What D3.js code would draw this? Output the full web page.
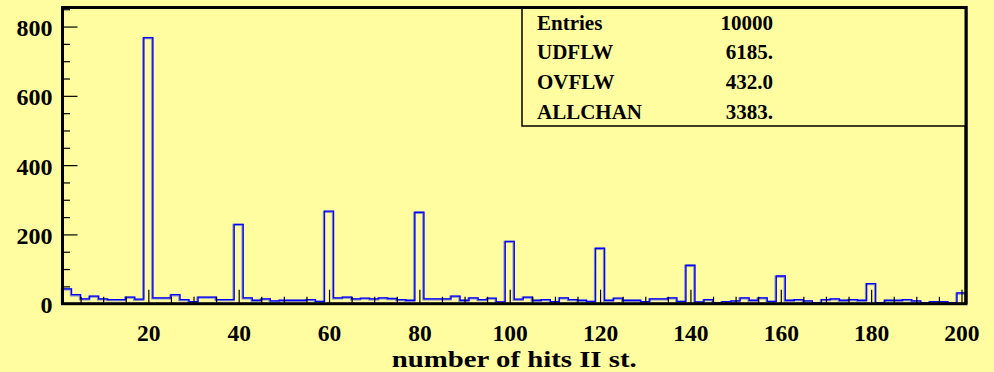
<!DOCTYPE html>
<html>
<head>
<meta charset="utf-8">
<script src="https://cdn.jsdelivr.net/npm/d3@7"></script>
<style>
  html, body { margin: 0; padding: 0; background: #fffd9f; }
  svg { display: block; font-family: "Liberation Serif", "Times New Roman", serif; font-weight: bold; }
</style>
</head>
<body>
<svg id="chart" width="994" height="372"></svg>
<script>
// histogram: 100 bins of width 2, from 1 to 201
const binLow = 1;
const binWidth = 2;
const counts = [
  43, 26, 14, 22, 14, 12, 12, 19, 13, 768,
  17, 17, 26, 12, 6, 19, 19, 12, 12, 229,
  17, 10, 14, 8, 10, 10, 10, 12, 7, 267,
  17, 19, 14, 16, 14, 17, 15, 12, 10, 264,
  14, 14, 14, 22, 10, 17, 12, 16, 5, 180,
  13, 19, 10, 12, 6, 17, 12, 10, 7, 160,
  10, 16, 10, 10, 6, 14, 14, 17, 7, 111,
  5, 12, 2, 6, 8, 17, 10, 17, 7, 80,
  10, 12, 8, 3, 12, 14, 10, 12, 10, 58,
  3, 10, 10, 12, 8, 3, 6, 6, 3, 31
];

const xMajor = [20, 40, 60, 80, 100, 120, 140, 160, 180, 200];
const xMinor = d3.range(5, 201, 5).filter(v => v % 20 !== 0);
const yMajor = [0, 200, 400, 600, 800];
const yMinor = d3.range(50, 851, 50).filter(v => v % 200 !== 0);

const statNames = ["Entries", "UDFLW", "OVFLW", "ALLCHAN"];
const statValues = ["10000", "6185.", "432.0", "3383."];

const xTitle = "number of hits II st.";

var svg = d3.select("#chart");
var pLeft = 62.5, pRight = 966, pTop = 7.5, pBottom = 303.7;

var x = d3.scaleLinear().domain([1, 201]).range([pLeft, pRight]);
var y = d3.scaleLinear().domain([0, 855]).range([pBottom, pTop]);

// background
svg.append("rect")
  .attr("width", 994).attr("height", 372)
  .attr("fill", "#fffd9f");

// histogram outline as a step path
const bins = counts.map((c, i) => ({ x0: binLow + i * binWidth, x1: binLow + (i + 1) * binWidth, c }));
const pts = [[bins[0].x0, 0]];
bins.forEach(b => { pts.push([b.x0, b.c]); pts.push([b.x1, b.c]); });
pts.push([bins[bins.length - 1].x1, 0]);

const stepLine = d3.line().x(d => x(d[0])).y(d => y(d[1]));

svg.append("path")
  .attr("d", stepLine(pts))
  .attr("fill", "none")
  .attr("stroke", "#8a8ac0")
  .attr("stroke-width", 2.2)
  .attr("transform", "translate(-0.6,0.6)");

svg.append("path")
  .attr("d", stepLine(pts))
  .attr("fill", "none")
  .attr("stroke", "#0000ff")
  .attr("stroke-width", 1.3);

// x axis, ticks pointing inward
var gx = svg.append("g").attr("transform", `translate(0,${pBottom})`);
gx.append("g")
  .call(d3.axisBottom(x).tickValues(xMinor).tickSize(-7).tickFormat(""))
  .call(g => g.select(".domain").remove());
gx.append("g")
  .call(d3.axisBottom(x).tickValues(xMajor).tickSize(-14).tickFormat(d3.format("d")))
  .call(g => g.select(".domain").remove())
  .call(g => g.selectAll("text")
    .attr("y", 37).attr("dy", 0)
    .attr("fill", "#000")
    .style("font-size", "23.5px"));

// y axis
var gy = svg.append("g").attr("transform", `translate(${pLeft},0)`);
gy.append("g")
  .call(d3.axisLeft(y).tickValues(yMinor).tickSize(-7.5).tickFormat(""))
  .call(g => g.select(".domain").remove());
gy.append("g")
  .call(d3.axisLeft(y).tickValues(yMajor).tickSize(-15).tickPadding(10).tickFormat(d3.format("d")))
  .call(g => g.select(".domain").remove())
  .call(g => g.selectAll("text")
    .attr("dy", "0.38em")
    .attr("fill", "#000")
    .style("font-size", "24px"));

svg.selectAll(".tick line").attr("stroke", "#000").attr("stroke-width", 1.2);
svg.selectAll(".tick text").style("font-family", "'Liberation Serif', serif").style("font-weight", "bold");

// frame
svg.append("rect")
  .attr("x", pLeft).attr("y", pTop)
  .attr("width", pRight - pLeft).attr("height", pBottom - pTop)
  .attr("fill", "none")
  .attr("stroke", "#000")
  .attr("stroke-width", 3);

// axis title
svg.append("text")
  .attr("x", (pLeft + pRight) / 2)
  .attr("y", 367)
  .attr("text-anchor", "middle")
  .attr("textLength", 245)
  .attr("lengthAdjust", "spacingAndGlyphs")
  .style("font-size", "24px")
  .text(xTitle);

// stats box
var boxX = 522, boxY = pTop, boxW = pRight - 522, boxH = 118.5;
var stats = svg.append("g");
stats.append("rect")
  .attr("x", boxX).attr("y", boxY)
  .attr("width", boxW).attr("height", boxH)
  .attr("fill", "#fffd9f")
  .attr("stroke", "#000")
  .attr("stroke-width", 1.5);
var rowH = boxH / statNames.length;
statNames.forEach((n, i) => {
  var cy = boxY + rowH * (i + 0.5);
  stats.append("text")
    .attr("x", 537).attr("y", cy).attr("dy", "0.35em")
    .style("font-size", "21px")
    .text(n);
  stats.append("text")
    .attr("x", 773).attr("y", cy).attr("dy", "0.35em")
    .attr("text-anchor", "end")
    .style("font-size", "21px")
    .text(statValues[i]);
});
// redraw top and right frame edges over the box
svg.append("path")
  .attr("d", `M${boxX},${pTop}H${pRight}V${pBottom}`)
  .attr("fill", "none")
  .attr("stroke", "#000").attr("stroke-width", 3);
</script>
</body>
</html>
